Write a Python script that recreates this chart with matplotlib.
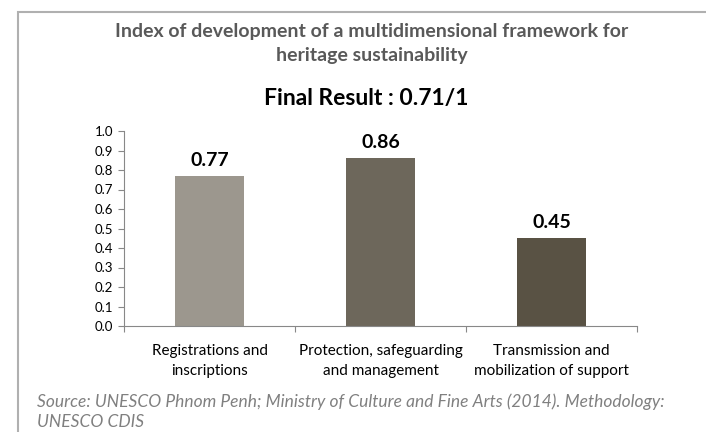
import matplotlib.pyplot as plt
from matplotlib.patches import Rectangle

plt.rcParams['font.family'] = ['Lato', 'DejaVu Sans']

categories = ['Registrations and\ninscriptions',
              'Protection, safeguarding\nand management',
              'Transmission and\nmobilization of support']
scores = [0.77, 0.86, 0.45]
bar_colors = ['#9c978e', '#6d675b', '#595244']
final_result = '0.71/1'

fig = plt.figure(figsize=(7.06, 4.32), dpi=100)
W, H = 706, 432

# outer frame, runs off right and bottom
fig.patches.append(Rectangle((18 / W, -0.1), 1.2, 1 - 12 / H + 0.1,
                             transform=fig.transFigure, fill=False,
                             edgecolor='#b0b0b0', linewidth=1.5))

ax = fig.add_axes([124 / W, (H - 326) / H, (637 - 124) / W, (326 - 131) / H])
x = range(len(scores))
ax.bar(x, scores, width=0.4, color=bar_colors)
for i, v in enumerate(scores):
    ax.text(i, v + 0.035, f'{v:.2f}', ha='center', va='bottom',
            fontsize=14, fontweight='bold', color='black')

ax.set_xlim(-0.5, 2.5)
ax.set_ylim(0, 1.0)
ax.set_yticks([i / 10 for i in range(11)])
ax.set_yticklabels([f'{i / 10:.1f}' for i in range(11)])
ax.set_xticks([-0.5, 0.5, 1.5, 2.5])
ax.set_xticklabels([])
ax.tick_params(axis='x', length=4, color='#888888')
ax.tick_params(axis='y', length=4, color='#888888', labelsize=9.5, pad=4)
for i, c in enumerate(categories):
    ax.text(i, -0.09, c, ha='center', va='top', fontsize=11,
            transform=ax.get_xaxis_transform(), linespacing=1.55)
for s in ['top', 'right']:
    ax.spines[s].set_visible(False)
ax.spines['left'].set_color('#888888')
ax.spines['bottom'].set_color('#888888')

fig.text(372 / W, 1 - 43 / H,
         'Index of development of a multidimensional framework for\nheritage sustainability',
         ha='center', va='center', fontsize=14, fontweight='bold',
         color='#595959', linespacing=1.5)
fig.text(366 / W, 1 - 98 / H, 'Final Result : ' + final_result,
         ha='center', va='center', fontsize=16.5, fontweight='bold', color='black')
fig.text(37 / W, 1 - 412 / H,
         'Source: UNESCO Phnom Penh; Ministry of Culture and Fine Arts (2014). Methodology:\nUNESCO CDIS',
         ha='left', va='center', fontsize=12.5, style='italic', color='#808080',
         linespacing=1.3)

fig.savefig('out.png', dpi=100)
